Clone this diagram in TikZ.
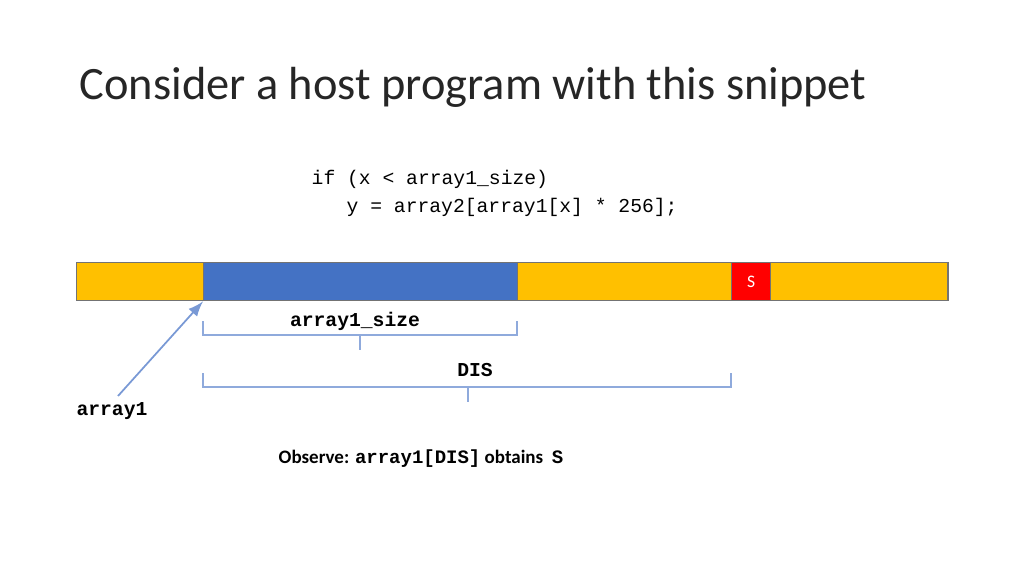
\documentclass[tikz,border=0pt]{standalone}
\usepackage{fontspec}
\setmainfont{Carlito}
\setmonofont{Liberation Mono}
\usetikzlibrary{positioning}
\definecolor{gold}{HTML}{FFC000}
\definecolor{cellblue}{HTML}{4472C4}
\definecolor{linegray}{HTML}{8FAADC}
\tikzset{
  >=latex,
  cell/.style={draw=black!55,line width=0.4pt,minimum height=0.38cm,inner sep=0pt,anchor=north west},
  bracket/.style={linegray,line width=0.6pt},
  code/.style={font=\ttfamily\fontsize{5.6}{7}\selectfont},
  boldcode/.style={font=\ttfamily\bfseries\fontsize{5.6}{7}\selectfont},
}
\tikzstyle{every node}=[font=\footnotesize]
\begin{document}
\begin{tikzpicture}[x=0.01cm,y=-0.01cm]
    \useasboundingbox (0,0) rectangle (1024,576);
    \node[anchor=base west,inner sep=0pt,font=\fontsize{13.2}{16}\selectfont,text=black!85] (title) at (79,100)
      {Consider a host program with this snippet};
    \node[anchor=base west,code,inner sep=0pt] (line1) at (311,185) {if (x < array1\_size)};
    \node[anchor=base west,code,inner sep=0pt] (line2) at (346,213) {y = array2[array1[x] * 256];};
    % the memory bar
    \node[cell,fill=gold,minimum width=1.27cm] (pre) at (76,262) {};
    \node[cell,fill=cellblue,minimum width=3.14cm] (arr) at (203,262) {};
    \node[cell,fill=gold,minimum width=2.14cm] (mid) at (517,262) {};
    \node[cell,fill=red,minimum width=0.39cm,text=white,font=\fontsize{5}{6}\selectfont] (sec) at (731,262) {S};
    \node[cell,fill=gold,minimum width=1.77cm] (post) at (770,262) {};
    % brackets
    \draw[bracket] (203,321)--(203,335)--(517,335)--(517,321);
    \draw[bracket] (360,335)--(360,350);
    \node[boldcode] (sizelbl) at (355,321) {array1\_size};
    \draw[bracket] (203,373)--(203,387)--(731,387)--(731,373);
    \draw[bracket] (468,387)--(468,402);
    \node[boldcode] (dislbl) at (475,370) {DIS};
    \node[boldcode] (ptr) at (112,411) {array1};
    \draw[->,linegray!70!cellblue,line width=0.5pt] (118,396) -- (arr.south west);
    \node[anchor=base west,inner sep=0pt,font=\fontsize{5.4}{7}\selectfont\bfseries] (obs) at (278,463)
      {Observe: {\ttfamily array1[DIS]} obtains \ {\ttfamily S}};
\end{tikzpicture}
\end{document}
